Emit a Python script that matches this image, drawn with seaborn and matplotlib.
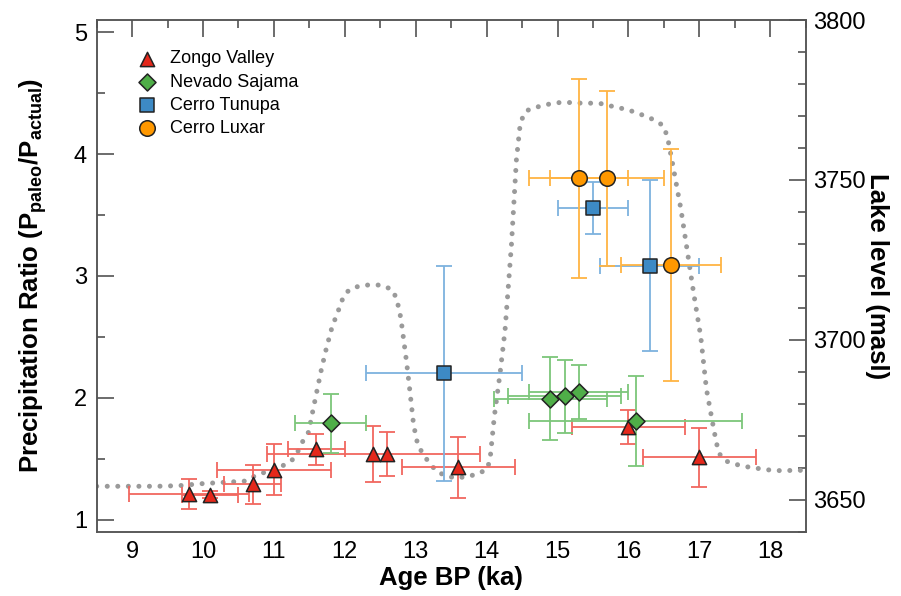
import numpy as np
import pandas as pd
import seaborn as sns
from matplotlib import pyplot as plt
from matplotlib.ticker import MultipleLocator

sns.set_theme(style="white")
plt.rcParams["font.family"] = ["Liberation Sans", "DejaVu Sans"]
plt.rcParams["mathtext.fontset"] = "custom"
plt.rcParams["mathtext.rm"] = "Liberation Sans"
plt.rcParams["mathtext.bf"] = "Liberation Sans:bold"
plt.rcParams["text.color"] = "black"
plt.rcParams["axes.labelcolor"] = "black"

# glacier reconstructions (age in ka, precipitation ratio)
zongo_age = [9.8, 10.1, 10.7, 11.0, 11.6, 12.4, 12.6, 13.6, 16.0, 17.0]
zongo_ratio = [1.21, 1.205, 1.29, 1.41, 1.575, 1.54, 1.54, 1.43, 1.756, 1.51]
zongo_age_err = [0.85, 0.4, 0.4, 0.8, 0.4, 1.5, 0.0, 0.8, 0.8, 0.8]
zongo_ratio_err = [0.12, 0.03, 0.16, 0.21, 0.13, 0.23, 0.18, 0.25, 0.14, 0.24]

sajama_age = [11.8, 14.9, 15.1, 15.3, 16.1]
sajama_ratio = [1.79, 1.99, 2.01, 2.045, 1.81]
sajama_age_err = [0.5, 0.8, 0.8, 0.7, 1.5]
sajama_ratio_err = [0.24, 0.34, 0.30, 0.22, 0.37]

tunupa_age = [13.4, 15.5, 16.3]
tunupa_ratio = [2.2, 3.557, 3.085]
tunupa_age_err = [1.1, 0.5, 0.7]
tunupa_ratio_err = [0.88, 0.21, 0.705]

luxar_age = [15.3, 15.7, 16.6]
luxar_ratio = [3.80, 3.80, 3.09]
luxar_age_err = [0.7, 0.8, 0.7]
luxar_ratio_err = [0.82, 0.72, 0.95]

# paleolake level curve (age in ka, masl)
lake_age = [8.5, 9.35, 9.67, 9.97, 10.27, 10.58, 10.72, 10.86, 11.13, 11.26, 11.34,
            11.41, 11.49, 11.55, 11.61, 11.67, 11.74, 11.82, 11.93, 11.98, 12.06,
            12.21, 12.36, 12.51, 12.66, 12.73, 12.79, 12.83, 12.87, 12.92, 12.97,
            13.03, 13.11, 13.19, 13.30, 13.44, 13.58, 13.74, 13.88, 14.01, 14.05,
            14.11, 14.19, 14.26, 14.35, 14.42, 14.47, 14.52, 14.59, 14.73, 14.88,
            15.03, 15.19, 15.34, 15.50, 15.64, 15.79, 15.94, 16.08, 16.22, 16.36,
            16.49, 16.55, 16.63, 16.74, 16.83, 16.92, 17.02, 17.10, 17.21, 17.27,
            17.35, 17.49, 17.64, 17.79, 17.94, 18.09, 18.5]
lake_level = [3654.2, 3654.2, 3654.4, 3655.0, 3655.4, 3655.8, 3657.3, 3658.5, 3660.7, 3662.5, 3665.2,
              3668.4, 3671.2, 3677.9, 3684.4, 3690.8, 3697.4, 3704.0, 3710.4, 3713.5, 3715.6,
              3716.9, 3717.2, 3717.1, 3715.8, 3713.0, 3706.8, 3700.0, 3693.2, 3683.5, 3673.4,
              3667.0, 3664.1, 3661.5, 3658.8, 3657.3, 3656.8, 3657.3, 3658.1, 3659.6, 3663.0,
              3676.3, 3689.6, 3703.1, 3729.7, 3756.3, 3766.7, 3770.5, 3771.9, 3772.9, 3773.7,
              3774.2, 3774.2, 3774.0, 3774.0, 3773.8, 3772.9, 3772.2, 3771.3, 3770.1, 3768.8,
              3767.0, 3763.5, 3754.2, 3740.9, 3727.8, 3714.6, 3701.0, 3684.6, 3671.3, 3664.8,
              3662.3, 3661.2, 3660.4, 3659.9, 3659.4, 3659.1, 3659.2]

lake_df = pd.DataFrame({"age": lake_age, "level": lake_level})

fig = plt.figure(figsize=(9.01, 5.96), dpi=100)
ax1 = fig.add_axes([0.1073, 0.1079, 0.7869, 0.8585])
ax2 = ax1.twinx()

sns.lineplot(ax=ax2, data=lake_df, x="age", y="level", sort=False, estimator=None,
             color="#9a9a9a", linewidth=3.6, linestyle=(0, (0.01, 2.1)),
             dash_capstyle="round")

series = [
    ("Zongo Valley", zongo_age, zongo_ratio, zongo_age_err, zongo_ratio_err, "^", "#e5281b", "#f1675f", 105),
    ("Nevado Sajama", sajama_age, sajama_ratio, sajama_age_err, sajama_ratio_err, "D", "#4fae48", "#7cc67a", 75),
    ("Cerro Tunupa", tunupa_age, tunupa_ratio, tunupa_age_err, tunupa_ratio_err, "s", "#3d8ac5", "#7db2de", 110),
    ("Cerro Luxar", luxar_age, luxar_ratio, luxar_age_err, luxar_ratio_err, "o", "#ff9800", "#ffb443", 125),
]

for name, age, ratio, aerr, rerr, mk, fc, ec, size in series:
    ax1.errorbar(age, ratio, xerr=aerr, yerr=rerr, fmt="none", ecolor=ec,
                 elinewidth=1.3, capsize=6, capthick=1.3, zorder=2)
for name, age, ratio, aerr, rerr, mk, fc, ec, size in series:
    sns.scatterplot(ax=ax1, x=age, y=ratio, marker=mk, s=size, color=fc,
                    edgecolor="#222222", linewidth=1.1, label=name, zorder=3)

ax1.set_zorder(ax2.get_zorder() + 1)
ax1.patch.set_visible(False)

ax1.set_xlim(8.5, 18.5)
ax1.set_ylim(0.9, 5.1)
ax2.set_ylim(3640, 3800)

ax1.xaxis.set_major_locator(MultipleLocator(1))
ax1.xaxis.set_minor_locator(MultipleLocator(0.5))
ax1.yaxis.set_major_locator(MultipleLocator(1))
ax1.yaxis.set_minor_locator(MultipleLocator(0.5))
ax2.yaxis.set_major_locator(MultipleLocator(50))
ax2.yaxis.set_minor_locator(MultipleLocator(10))

tick_col = "#444444"
ax1.tick_params(which="both", direction="in", top=True, right=False,
                color=tick_col, width=1.1, labelsize=17, labelcolor="black")
ax1.tick_params(which="major", length=12, pad=7)
ax1.tick_params(which="minor", length=6)
ax2.tick_params(which="both", direction="in", color=tick_col, width=1.1,
                labelsize=17, labelcolor="black")
ax2.tick_params(which="major", length=12, pad=5)
ax2.tick_params(which="minor", length=6)

for ax in (ax1, ax2):
    for sp in ax.spines.values():
        sp.set_color("#555555")
        sp.set_linewidth(1.1)

ax1.set_xlabel("Age BP (ka)", fontsize=18.5, fontweight="bold", labelpad=2)
ax1.set_ylabel(r"Precipitation Ratio (P$_{\mathbf{paleo}}$/P$_{\mathbf{actual}}$)",
               fontsize=18.5, fontweight="bold", labelpad=18)
ax2.set_ylabel("Lake level (masl)", fontsize=18.5, fontweight="bold",
               rotation=270, va="bottom", labelpad=0)

ax1.legend(loc="upper left", bbox_to_anchor=(0.035, 0.955), frameon=False,
           fontsize=13, handletextpad=0.3, labelspacing=0.35, borderaxespad=0)

plt.savefig("out.png", dpi=100)
